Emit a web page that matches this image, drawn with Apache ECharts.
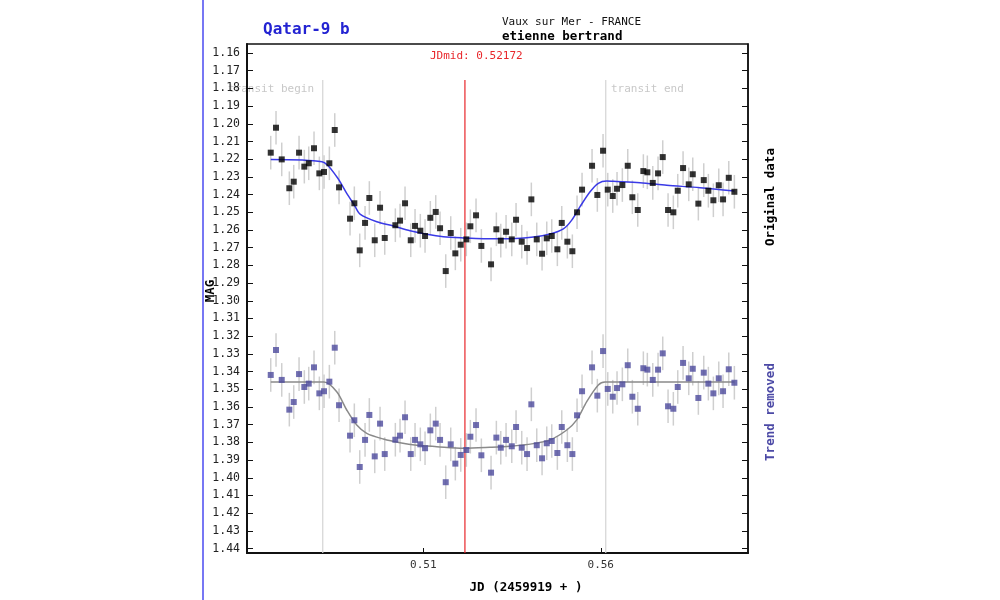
<!DOCTYPE html>
<html>
<head>
<meta charset="utf-8">
<script src="https://cdn.jsdelivr.net/npm/echarts@6/dist/echarts.min.js"></script>
<style>html,body{margin:0;padding:0;background:#fff;}#chart{width:1000px;height:600px;}</style>
</head>
<body>
<div id="chart"></div>
<script>
// ---- data ----
const JD_BEGIN = 0.48165;
const JD_END = 0.56141;
const JD_MID = 0.52172;
const ERR = 0.0095;

const T = [0.46699,0.46848,0.47009,0.47223,0.47347,0.47497,0.47646,0.47770,0.47919,0.48069,
0.48201,0.48351,0.48503,0.48624,0.48934,0.49055,0.49207,0.49357,0.49478,0.49630,
0.49780,0.49912,0.50211,0.50343,0.50484,0.50645,0.50766,0.50915,0.51048,0.51197,
0.51349,0.51471,0.51631,0.51772,0.51902,0.52054,0.52212,0.52325,0.52485,0.52635,
0.52908,0.53058,0.53182,0.53331,0.53492,0.53613,0.53773,0.53923,0.54044,0.54196,
0.54346,0.54478,0.54619,0.54777,0.54901,0.55059,0.55200,0.55332,0.55473,0.55755,
0.55904,0.56065,0.56197,0.56338,0.56459,0.56609,0.56761,0.56891,0.57043,0.57201,
0.57313,0.57466,0.57615,0.57747,0.57897,0.58046,0.58170,0.58320,0.58480,0.58593,
0.58751,0.58903,0.59033,0.59174,0.59326,0.59447,0.59608,0.59766];

const ORIGINAL = [1.2163,1.2022,1.2201,1.2364,1.2327,1.2163,1.2242,1.2223,1.2138,1.2280,
1.2272,1.2223,1.2035,1.2359,1.2536,1.2449,1.2715,1.2560,1.2419,1.2658,
1.2474,1.2645,1.2573,1.2547,1.2449,1.2658,1.2577,1.2604,1.2634,1.2531,
1.2498,1.2590,1.2832,1.2617,1.2732,1.2683,1.2653,1.2579,1.2517,1.2690,
1.2794,1.2596,1.2660,1.2610,1.2653,1.2542,1.2666,1.2702,1.2427,1.2653,
1.2734,1.2647,1.2634,1.2709,1.2560,1.2666,1.2720,1.2500,1.2372,1.2237,
1.2402,1.2152,1.2372,1.2408,1.2367,1.2346,1.2237,1.2415,1.2487,1.2267,
1.2274,1.2334,1.2280,1.2188,1.2487,1.2500,1.2378,1.2250,1.2342,1.2285,
1.2451,1.2318,1.2378,1.2432,1.2347,1.2427,1.2305,1.2384];

const DETRENDED = [1.3419,1.3278,1.3447,1.3615,1.3572,1.3414,1.3487,1.3468,1.3376,1.3523,
1.3511,1.3457,1.3265,1.3590,1.3762,1.3675,1.3939,1.3786,1.3645,1.3879,
1.3694,1.3866,1.3785,1.3762,1.3658,1.3866,1.3786,1.3811,1.3833,1.3732,
1.3694,1.3786,1.4025,1.3811,1.3920,1.3871,1.3843,1.3768,1.3702,1.3873,
1.3971,1.3773,1.3830,1.3786,1.3822,1.3713,1.3830,1.3866,1.3585,1.3816,
1.3890,1.3805,1.3792,1.3860,1.3713,1.3816,1.3866,1.3647,1.3511,1.3376,
1.3536,1.3284,1.3498,1.3542,1.3493,1.3472,1.3364,1.3542,1.3610,1.3381,
1.3389,1.3447,1.3389,1.3297,1.3596,1.3610,1.3487,1.3351,1.3438,1.3384,
1.3549,1.3406,1.3468,1.3523,1.3438,1.3511,1.3387,1.3463];

const MODEL1_T = [0.46699,0.48145,0.48559,0.48841,0.49055,0.49216,0.49687,0.50154,0.50625,0.51096,
0.51564,0.52127,0.52691,0.53444,0.54100,0.54571,0.54946,0.55183,0.55417,0.55699,
0.55932,0.56169,0.56355,0.57107,0.57860,0.58799,0.59766];
const MODEL1 = [1.2201,1.2214,1.2299,1.2393,1.2459,1.2510,1.2553,1.2577,1.2604,1.2624,
1.2638,1.2645,1.2649,1.2649,1.2640,1.2623,1.2594,1.2544,1.2468,1.2384,
1.2336,1.2323,1.2325,1.2333,1.2347,1.2361,1.2380];

const MODEL2_T = [0.46699,0.48201,0.48559,0.48841,0.49123,0.49405,0.49873,0.50343,0.50814,0.51378,
0.52127,0.52880,0.53444,0.54100,0.54571,0.55042,0.55324,0.55605,0.55932,0.56121,0.59766];
const MODEL2 = [1.3459,1.3459,1.3514,1.3617,1.3702,1.3749,1.3781,1.3802,1.3816,1.3824,
1.3833,1.3828,1.3822,1.3807,1.3786,1.3730,1.3673,1.3570,1.3476,1.3459,1.3459];

const Y_TICKS = [1.16,1.17,1.18,1.19,1.20,1.21,1.22,1.23,1.24,1.25,1.26,1.27,1.28,1.29,1.30,
1.31,1.32,1.33,1.34,1.35,1.36,1.37,1.38,1.39,1.40,1.41,1.42,1.43,1.44];
const X_TICKS = [0.51, 0.56];
const Y_MIN = 1.1549, Y_MAX = 1.4425;
const X_MIN = 0.4603, X_MAX = 0.6015;
const LINE_TOP = 1.1753;

// ---- chart ----
const MONO = '"DejaVu Sans Mono", "Liberation Mono", monospace';
const chart = echarts.init(document.getElementById('chart'), null, {renderer: 'canvas'});

function errBars(values, color) {
  return {
    type: 'custom',
    xAxisIndex: 0, yAxisIndex: 0,
    z: 1,
    silent: true,
    data: T.map((t, i) => [t, values[i]]),
    encode: {x: 0, y: 1},
    renderItem: function (params, api) {
      const x = api.value(0), y = api.value(1);
      const a = api.coord([x, y - ERR]);
      const b = api.coord([x, y + ERR]);
      return {type: 'line', shape: {x1: a[0], y1: a[1], x2: b[0], y2: b[1]},
              style: {stroke: color, lineWidth: 1.5}};
    }
  };
}
function vline(t, color, z) {
  return {
    type: 'line', z: z, silent: true, symbol: 'none', animation: false,
    data: [[t, LINE_TOP], [t, Y_MAX]],
    lineStyle: {color: color, width: 1.2}
  };
}

const option = {
  animation: false,
  backgroundColor: '#fff',
  grid: {left: 247, right: 252, top: 44, bottom: 47, show: true, borderColor: '#111', borderWidth: 1.5, backgroundColor: '#fff'},
  xAxis: [{
    type: 'value', min: X_MIN, max: X_MAX, position: 'bottom',
    splitLine: {show: false},
    axisLine: {show: true, onZero: false, lineStyle: {color: '#111', width: 2}},
    axisTick: {show: true, inside: true, length: 5, customValues: X_TICKS, lineStyle: {color: '#111'}},
    axisLabel: {show: true, customValues: X_TICKS, formatter: v => v.toFixed(2), color: '#333',
                fontFamily: MONO, fontSize: 11, margin: 7}
  }],
  yAxis: [{
    type: 'value', inverse: true, min: Y_MIN, max: Y_MAX, position: 'left',
    splitLine: {show: false},
    axisLine: {show: true, onZero: false, lineStyle: {color: '#111', width: 2}},
    axisTick: {show: true, inside: true, length: 6, customValues: Y_TICKS, lineStyle: {color: '#111'}},
    axisLabel: {show: true, customValues: Y_TICKS, formatter: v => v.toFixed(2), color: '#222',
                fontFamily: MONO, fontSize: 11.5, margin: 7}
  }, {
    type: 'value', inverse: true, min: Y_MIN, max: Y_MAX, position: 'right',
    splitLine: {show: false},
    axisLine: {show: true, onZero: false, lineStyle: {color: '#111', width: 1.5}},
    axisTick: {show: true, inside: true, length: 6, customValues: Y_TICKS, lineStyle: {color: '#111'}},
    axisLabel: {show: false}
  }],
  series: [
    vline(JD_BEGIN, '#d4d4d4', 0),
    vline(JD_END, '#d4d4d4', 0),
    errBars(ORIGINAL, '#cfcfcf'),
    errBars(DETRENDED, '#cfcfcf'),
    vline(JD_MID, '#e8262a', 2),
    {type: 'line', z: 3, symbol: 'none', smooth: 0.3, silent: true,
     data: MODEL1_T.map((t, i) => [t, MODEL1[i]]),
     lineStyle: {color: '#3a3ae6', width: 1.5}},
    {type: 'line', z: 3, symbol: 'none', smooth: 0.3, silent: true,
     data: MODEL2_T.map((t, i) => [t, MODEL2[i]]),
     lineStyle: {color: '#8a8a8a', width: 1.5}},
    {type: 'scatter', z: 4, symbol: 'rect', symbolSize: 6, silent: true,
     data: T.map((t, i) => [t, ORIGINAL[i]]),
     itemStyle: {color: '#000'}},
    {type: 'scatter', z: 4, symbol: 'rect', symbolSize: 6, silent: true,
     data: T.map((t, i) => [t, DETRENDED[i]]),
     itemStyle: {color: '#4c4a9c'}}
  ],
  graphic: [
    {type: 'line', shape: {x1: 203, y1: 0, x2: 203, y2: 600}, style: {stroke: '#4a4af0', lineWidth: 1.5}, z: 10},
    {type: 'text', x: 263, y: 30, style: {text: 'Qatar-9 b', fill: '#2323d2', font: 'bold 16px ' + MONO, textVerticalAlign: 'middle'}, z: 10},
    {type: 'text', x: 502, y: 22, style: {text: 'Vaux sur Mer - FRANCE', fill: '#111', font: '11px ' + MONO, textVerticalAlign: 'middle'}, z: 10},
    {type: 'text', x: 502, y: 37, style: {text: 'etienne bertrand', fill: '#000', font: 'bold 12.5px ' + MONO, textVerticalAlign: 'middle'}, z: 10},
    {type: 'text', x: 430, y: 56, style: {text: 'JDmid: ' + JD_MID.toFixed(5), fill: '#e8262a', font: '11px ' + MONO, textVerticalAlign: 'middle'}, z: 10},
    {type: 'text', x: 314, y: 89, style: {text: 'transit begin', fill: '#c8c8c8', font: '11px ' + MONO, textAlign: 'right', textVerticalAlign: 'middle'}, z: 0},
    {type: 'text', x: 611, y: 89, style: {text: 'transit end', fill: '#c8c8c8', font: '11px ' + MONO, textVerticalAlign: 'middle'}, z: 10},
    {type: 'text', x: 211, y: 291, rotation: Math.PI / 2, style: {text: 'MAG', fill: '#000', font: 'bold 12.5px ' + MONO, textAlign: 'center', textVerticalAlign: 'middle'}, z: 10},
    {type: 'text', x: 771, y: 197, rotation: Math.PI / 2, style: {text: 'Original data', fill: '#000', font: 'bold 12.5px ' + MONO, textAlign: 'center', textVerticalAlign: 'middle'}, z: 10},
    {type: 'text', x: 771, y: 412, rotation: Math.PI / 2, style: {text: 'Trend removed', fill: '#4c4aa6', font: 'bold 12.5px ' + MONO, textAlign: 'center', textVerticalAlign: 'middle'}, z: 10},
    {type: 'text', x: 526, y: 588, style: {text: 'JD (2459919 + )', fill: '#000', font: 'bold 12.5px ' + MONO, textAlign: 'center', textVerticalAlign: 'middle'}, z: 10}
  ]
};
chart.setOption(option);
</script>
</body>
</html>
